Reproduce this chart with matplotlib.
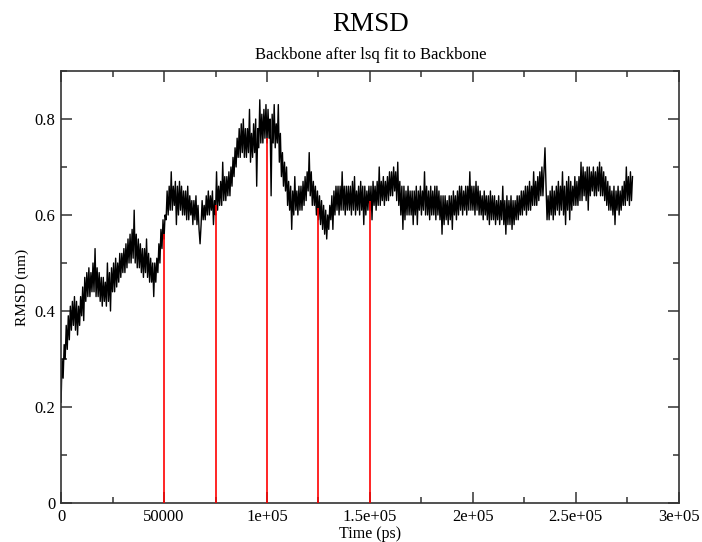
import numpy as np
import matplotlib
matplotlib.use("Agg")
import matplotlib.pyplot as plt
from matplotlib.ticker import MultipleLocator, FuncFormatter

# RMSD trace, one value per 500 ps, 10 ns per row
rmsd = [
    0.21, 0.30, 0.26, 0.33, 0.30, 0.37, 0.32, 0.39, 0.34, 0.41, 0.36, 0.42, 0.37, 0.43, 0.36, 0.42, 0.35, 0.41, 0.37, 0.43,
    0.39, 0.45, 0.38, 0.47, 0.42, 0.48, 0.43, 0.49, 0.43, 0.48, 0.44, 0.50, 0.44, 0.53, 0.43, 0.49, 0.43, 0.48, 0.42, 0.47,
    0.41, 0.47, 0.42, 0.46, 0.41, 0.50, 0.42, 0.48, 0.40, 0.49, 0.44, 0.50, 0.44, 0.51, 0.45, 0.50, 0.46, 0.52, 0.47, 0.52,
    0.48, 0.53, 0.48, 0.54, 0.49, 0.55, 0.50, 0.56, 0.50, 0.57, 0.51, 0.61, 0.50, 0.56, 0.49, 0.55, 0.49, 0.54, 0.48, 0.53,
    0.47, 0.53, 0.48, 0.55, 0.47, 0.52, 0.46, 0.51, 0.46, 0.50, 0.43, 0.50, 0.46, 0.51, 0.48, 0.54, 0.50, 0.57, 0.53, 0.59,
    0.55, 0.60, 0.59, 0.65, 0.60, 0.66, 0.61, 0.69, 0.61, 0.66, 0.62, 0.67, 0.58, 0.66, 0.60, 0.67, 0.61, 0.66, 0.60, 0.65,
    0.60, 0.65, 0.59, 0.66, 0.59, 0.64, 0.60, 0.63, 0.58, 0.63, 0.59, 0.64, 0.58, 0.62, 0.57, 0.54, 0.58, 0.63, 0.59, 0.62,
    0.59, 0.64, 0.60, 0.65, 0.60, 0.64, 0.61, 0.65, 0.58, 0.63, 0.60, 0.69, 0.61, 0.66, 0.62, 0.67, 0.62, 0.71, 0.63, 0.68,
    0.63, 0.68, 0.64, 0.69, 0.64, 0.70, 0.66, 0.72, 0.68, 0.74, 0.70, 0.76, 0.72, 0.78, 0.72, 0.79, 0.73, 0.80, 0.72, 0.78,
    0.72, 0.78, 0.73, 0.82, 0.71, 0.77, 0.72, 0.79, 0.73, 0.80, 0.66, 0.78, 0.74, 0.84, 0.75, 0.81, 0.75, 0.82, 0.76, 0.83,
    0.75, 0.82, 0.76, 0.80, 0.64, 0.81, 0.75, 0.83, 0.74, 0.79, 0.75, 0.83, 0.71, 0.77, 0.68, 0.73, 0.66, 0.71, 0.65, 0.70,
    0.62, 0.67, 0.61, 0.66, 0.57, 0.65, 0.60, 0.68, 0.61, 0.65, 0.60, 0.66, 0.61, 0.66, 0.61, 0.67, 0.62, 0.68, 0.63, 0.69,
    0.65, 0.73, 0.64, 0.69, 0.62, 0.67, 0.62, 0.66, 0.60, 0.65, 0.59, 0.64, 0.58, 0.63, 0.57, 0.62, 0.56, 0.61, 0.55, 0.60,
    0.57, 0.62, 0.59, 0.64, 0.57, 0.65, 0.60, 0.66, 0.61, 0.66, 0.60, 0.66, 0.61, 0.69, 0.61, 0.66, 0.60, 0.66, 0.61, 0.66,
    0.61, 0.66, 0.60, 0.67, 0.61, 0.68, 0.60, 0.65, 0.61, 0.66, 0.60, 0.67, 0.61, 0.66, 0.58, 0.66, 0.60, 0.65, 0.61, 0.66,
    0.61, 0.66, 0.59, 0.67, 0.62, 0.66, 0.61, 0.67, 0.62, 0.70, 0.62, 0.67, 0.63, 0.68, 0.62, 0.67, 0.63, 0.68, 0.63, 0.69,
    0.64, 0.69, 0.64, 0.70, 0.65, 0.69, 0.63, 0.71, 0.62, 0.67, 0.60, 0.66, 0.57, 0.66, 0.59, 0.65, 0.60, 0.66, 0.60, 0.65,
    0.60, 0.65, 0.58, 0.65, 0.60, 0.66, 0.58, 0.65, 0.61, 0.66, 0.60, 0.65, 0.61, 0.69, 0.60, 0.66, 0.60, 0.65, 0.59, 0.66,
    0.60, 0.65, 0.60, 0.66, 0.59, 0.66, 0.60, 0.65, 0.59, 0.64, 0.56, 0.64, 0.58, 0.64, 0.59, 0.63, 0.58, 0.64, 0.59, 0.64,
    0.57, 0.65, 0.60, 0.64, 0.59, 0.65, 0.60, 0.66, 0.61, 0.66, 0.60, 0.65, 0.61, 0.66, 0.60, 0.66, 0.61, 0.69, 0.61, 0.66,
    0.61, 0.66, 0.60, 0.67, 0.61, 0.66, 0.60, 0.65, 0.60, 0.64, 0.59, 0.65, 0.60, 0.64, 0.59, 0.64, 0.58, 0.65, 0.59, 0.64,
    0.59, 0.64, 0.58, 0.63, 0.59, 0.64, 0.58, 0.63, 0.59, 0.66, 0.58, 0.63, 0.56, 0.64, 0.58, 0.63, 0.58, 0.64, 0.57, 0.63,
    0.58, 0.63, 0.59, 0.64, 0.59, 0.64, 0.60, 0.65, 0.60, 0.65, 0.61, 0.66, 0.60, 0.66, 0.61, 0.67, 0.61, 0.66, 0.62, 0.69,
    0.62, 0.67, 0.62, 0.68, 0.63, 0.69, 0.64, 0.70, 0.64, 0.69, 0.74, 0.66, 0.59, 0.64, 0.59, 0.65, 0.60, 0.66, 0.59, 0.65,
    0.60, 0.66, 0.61, 0.67, 0.60, 0.66, 0.61, 0.69, 0.60, 0.66, 0.58, 0.67, 0.61, 0.68, 0.59, 0.67, 0.61, 0.66, 0.62, 0.68,
    0.62, 0.67, 0.62, 0.68, 0.63, 0.71, 0.63, 0.70, 0.64, 0.69, 0.63, 0.70, 0.61, 0.70, 0.64, 0.69, 0.65, 0.70, 0.64, 0.69,
    0.64, 0.70, 0.65, 0.71, 0.64, 0.70, 0.64, 0.69, 0.63, 0.68, 0.62, 0.67, 0.61, 0.66, 0.61, 0.65, 0.60, 0.66, 0.58, 0.65,
    0.61, 0.66, 0.60, 0.65, 0.61, 0.66, 0.62, 0.67, 0.62, 0.70, 0.63, 0.68, 0.62, 0.69, 0.63, 0.68,
]
time_ps = np.arange(len(rmsd)) * 500

# red marker lines
mark_t = [50000, 75000, 100000, 125000, 150000]
mark_top = [0.56, 0.62, 0.76, 0.615, 0.63]

plt.rcParams['font.family'] = ['Liberation Serif', 'DejaVu Serif']

fig = plt.figure(figsize=(7.02, 5.42), dpi=100)
ax = fig.add_axes([0.087, 0.072, 0.880, 0.797])

ax.plot(time_ps, rmsd, color='black', lw=1.0, zorder=2)
ax.vlines(mark_t, 0, mark_top, color='red', lw=1.2, zorder=3)

ax.set_xlim(0, 300000)
ax.set_ylim(0, 0.9)
ax.xaxis.set_major_locator(MultipleLocator(50000))
ax.xaxis.set_minor_locator(MultipleLocator(25000))
ax.yaxis.set_major_locator(MultipleLocator(0.2))
ax.yaxis.set_minor_locator(MultipleLocator(0.1))

def xfmt(v, pos):
    if v == 0:
        return '0'
    if v == 50000:
        return '50000'
    s = '%g' % (v / 1e5)
    return s + 'e+05'

ax.xaxis.set_major_formatter(FuncFormatter(xfmt))
ax.yaxis.set_major_formatter(FuncFormatter(lambda v, p: '0' if v == 0 else '%g' % v))

ax.tick_params(which='both', direction='in', top=True, right=True, color='#333333', labelsize=12)
ax.tick_params(which='major', length=8, width=1.1, pad=4)
ax.tick_params(which='minor', length=4.5, width=1.1)
for sp in ax.spines.values():
    sp.set_linewidth(1.2)
    sp.set_color('#333333')

ax.set_xlabel('Time (ps)', fontsize=11.5, labelpad=1)
ax.set_ylabel('RMSD (nm)', fontsize=11, labelpad=4)

fig.text(0.528, 0.954, 'RMSD', ha='center', va='center', fontsize=19.5)
fig.text(0.528, 0.898, 'Backbone after lsq fit to Backbone', ha='center', va='center', fontsize=12)

fig.savefig('out.png', dpi=100)
